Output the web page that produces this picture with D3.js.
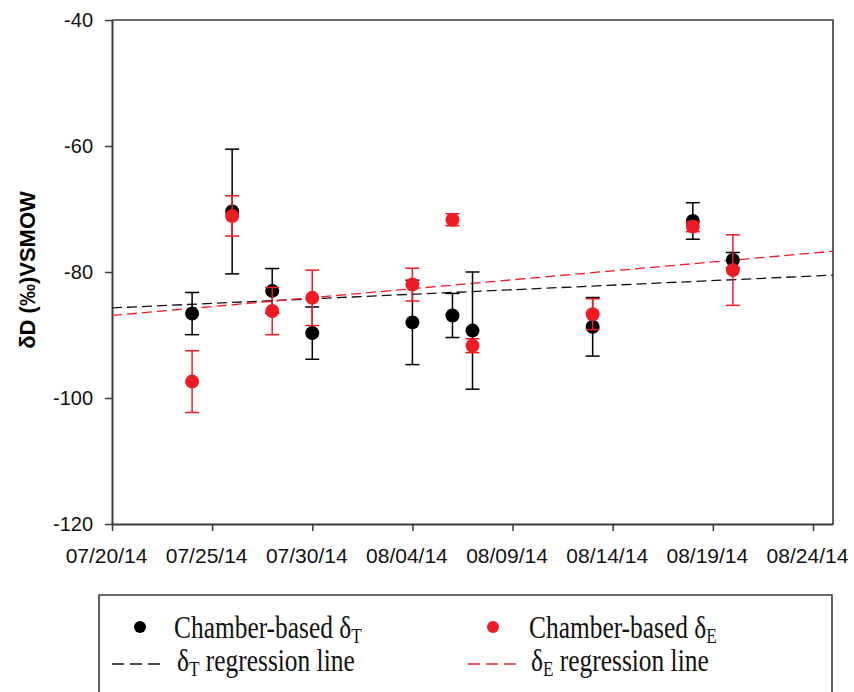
<!DOCTYPE html>
<html>
<head>
<meta charset="utf-8">
<script src="https://cdn.jsdelivr.net/npm/d3@7"></script>
<style>
  body { margin: 0; background: #fff; }
  svg { display: block; }
</style>
</head>
<body>
<svg id="chart" width="854" height="692"></svg>
<script>
// sampling dates and the two delta series (permil vs VSMOW)
var sampleDates = ["2014-07-24", "2014-07-26", "2014-07-28", "2014-07-30", "2014-08-04",
  "2014-08-06", "2014-08-07", "2014-08-13", "2014-08-18", "2014-08-20"];
var deltaT = [-86.6, -70.4, -83.0, -89.7, -88.0, -86.9, -89.3, -88.7, -71.9, -78.1];
var deltaTErr = [3.35, 9.9, 3.55, 4.15, 6.7, 3.5, 9.3, 4.65, 2.9, 1.2];
var deltaE = [-97.4, -71.1, -86.2, -84.1, -82.0, -71.7, -91.7, -86.7, -72.8, -79.7];
var deltaEErr = [4.9, 3.2, 3.75, 4.4, 2.6, 0.95, 1.1, 2.45, 0.8, 5.6];

// regression lines, values at both ends of the time axis
var regDates = ["2014-07-20", "2014-08-25"];
var regT = [-85.7, -80.5];
var regE = [-86.9, -76.7];

var xTickDates = ["2014-07-20", "2014-07-25", "2014-07-30", "2014-08-04",
  "2014-08-09", "2014-08-14", "2014-08-19", "2014-08-24"];
var yTicks = [-120, -100, -80, -60, -40];

var RED = "#ed1c24";
var AXIS = "#3a3a3a";

var parse = d3.timeParse("%Y-%m-%d");
var svg = d3.select("#chart");
svg.append("rect").attr("width", 854).attr("height", 692).attr("fill", "#fff");

var margin = { left: 112, top: 20, right: 833, bottom: 524 };

var x = d3.scaleTime()
  .domain([parse(regDates[0]), parse(regDates[1])])
  .range([margin.left, margin.right]);
var y = d3.scaleLinear()
  .domain([-120, -40])
  .range([margin.bottom, margin.top]);

// frame (top / right)
svg.append("path")
  .attr("d", "M" + margin.left + "," + margin.top + "H" + margin.right + "V" + margin.bottom)
  .attr("fill", "none").attr("stroke", AXIS).attr("stroke-width", 1.6);

var yAxis = svg.append("g")
  .attr("transform", "translate(" + margin.left + ",0)")
  .call(d3.axisLeft(y).tickValues(yTicks).tickSize(7).tickPadding(12).tickSizeOuter(0)
    .tickFormat(function (d) { return String(d); }));  // plain hyphen, not U+2212
var xAxis = svg.append("g")
  .attr("transform", "translate(0," + margin.bottom + ")")
  .call(d3.axisBottom(x).tickValues(xTickDates.map(parse)).tickSize(7).tickPadding(17)
    .tickSizeOuter(0).tickFormat(d3.timeFormat("%m/%d/%y")));

[yAxis, xAxis].forEach(function (g) {
  g.select(".domain").attr("stroke", AXIS).attr("stroke-width", 2);
  g.selectAll(".tick line").attr("stroke", AXIS).attr("stroke-width", 1.5);
  g.selectAll(".tick text").attr("fill", "#111")
    .style("font-family", "Arial, 'Liberation Sans', sans-serif");
});
yAxis.selectAll(".tick text").style("font-size", "20px");
xAxis.selectAll(".tick text").style("font-size", "21px").attr("dx", -6);

// y axis title
svg.append("text")
  .attr("transform", "translate(27,270) rotate(-90)")
  .attr("text-anchor", "middle")
  .attr("dominant-baseline", "central")
  .style("font-family", "Arial, 'Liberation Sans', sans-serif")
  .style("font-size", "22px")
  .style("font-weight", "bold")
  .text("δD (‰)VSMOW");

// regression lines
function drawReg(values, color) {
  var line = d3.line()
    .x(function (d) { return x(parse(d[0])); })
    .y(function (d) { return y(d[1]); });
  svg.append("path")
    .datum(d3.zip(regDates, values))
    .attr("d", line)
    .attr("fill", "none")
    .attr("stroke", color)
    .attr("stroke-width", 1.3)
    .attr("stroke-dasharray", "10,5");
}
drawReg(regT, "#111");
drawReg(regE, RED);

// points with error bars
function drawSeries(values, errs, color) {
  var g = svg.append("g");
  var rows = d3.zip(sampleDates, values, errs);
  var bars = g.selectAll("g.bar").data(rows).enter().append("g").attr("class", "bar");
  bars.append("line")
    .attr("x1", function (d) { return x(parse(d[0])); })
    .attr("x2", function (d) { return x(parse(d[0])); })
    .attr("y1", function (d) { return y(d[1] + d[2]); })
    .attr("y2", function (d) { return y(d[1] - d[2]); });
  [1, -1].forEach(function (s) {
    bars.append("line")
      .attr("x1", function (d) { return x(parse(d[0])) - 7; })
      .attr("x2", function (d) { return x(parse(d[0])) + 7; })
      .attr("y1", function (d) { return y(d[1] + s * d[2]); })
      .attr("y2", function (d) { return y(d[1] + s * d[2]); });
  });
  bars.selectAll("line").attr("stroke", color).attr("stroke-width", 1.5);
  g.selectAll("circle").data(rows).enter().append("circle")
    .attr("cx", function (d) { return x(parse(d[0])); })
    .attr("cy", function (d) { return y(d[1]); })
    .attr("r", 7)
    .attr("fill", color);
}
drawSeries(deltaT, deltaTErr, "#000");
drawSeries(deltaE, deltaEErr, RED);

// legend box (runs off the bottom of the picture)
svg.append("path")
  .attr("d", "M99,700V595H832V700")
  .attr("fill", "none").attr("stroke", AXIS).attr("stroke-width", 1.6);

function legendText(tx, ty, pre, sub, post) {
  var t = svg.append("g")
    .attr("transform", "translate(" + tx + "," + ty + ") scale(0.82,1)")
    .append("text")
    .style("font-family", "'Times New Roman', 'Liberation Serif', serif")
    .style("font-size", "31px")
    .attr("fill", "#111");
  t.append("tspan").text(pre);
  t.append("tspan").attr("dy", 5).style("font-size", "21px").text(sub);
  t.append("tspan").attr("dy", -5).text(post);
}

var legend = [
  { dot: "#000", cx: 140, tx: 174, pre: "Chamber-based δ", sub: "T" },
  { dot: RED, cx: 493, tx: 529, pre: "Chamber-based δ", sub: "E" }
];
legend.forEach(function (l) {
  svg.append("circle").attr("cx", l.cx).attr("cy", 627).attr("r", 6).attr("fill", l.dot);
  legendText(l.tx, 638, l.pre, l.sub, "");
});

var legendLines = [
  { color: "#111", x1: 112, tx: 177, sub: "T" },
  { color: RED, x1: 468, tx: 531, sub: "E" }
];
legendLines.forEach(function (l) {
  svg.append("line")
    .attr("x1", l.x1).attr("x2", l.x1 + 48)
    .attr("y1", 664).attr("y2", 664)
    .attr("stroke", l.color).attr("stroke-width", 1.4)
    .attr("stroke-dasharray", "12,6");
  legendText(l.tx, 671, "δ", l.sub, " regression line");
});
</script>
</body>
</html>
